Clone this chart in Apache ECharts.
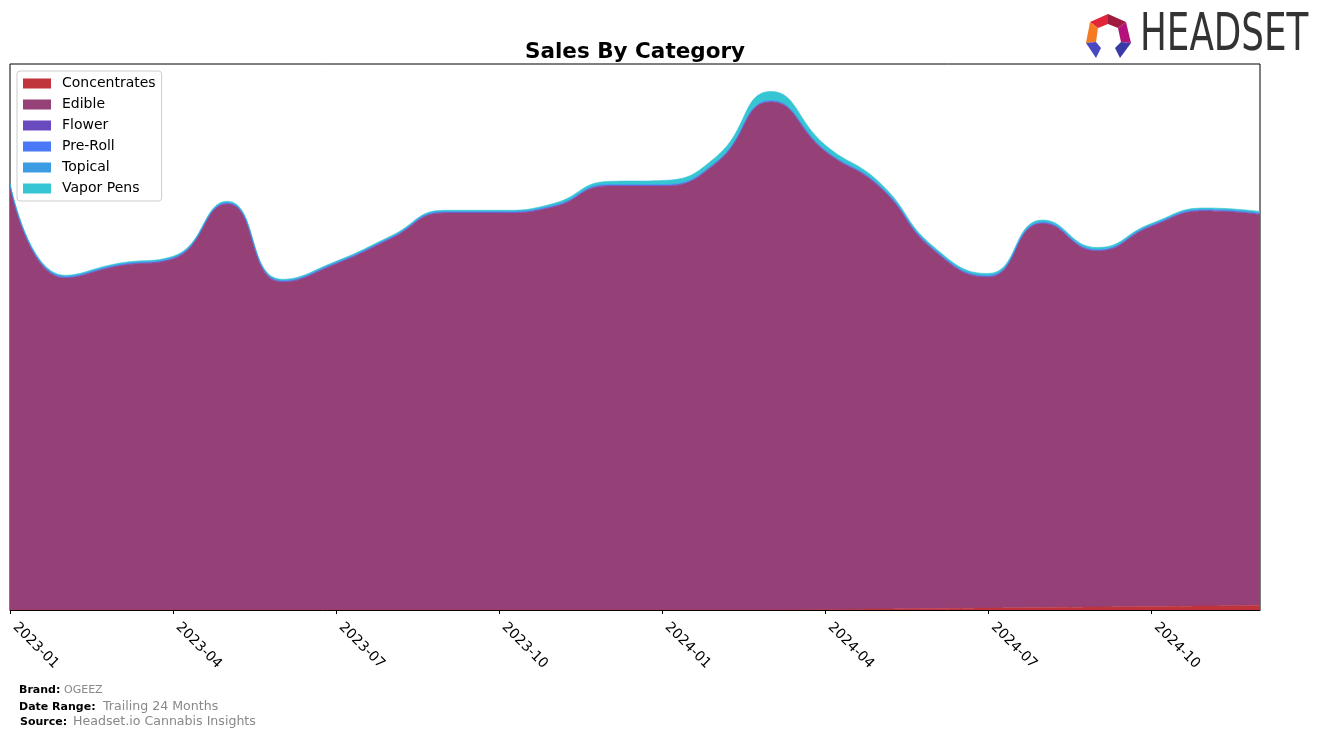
<!DOCTYPE html>
<html>
<head>
<meta charset="utf-8">
<script src="https://cdn.jsdelivr.net/npm/echarts@6/dist/echarts.min.js"></script>
<style>
html,body{margin:0;padding:0;background:#fff;}
#chart{width:1324px;height:738px;}
</style>
</head>
<body>
<div id="chart"></div>
<script>
// Monthly categories (x axis)
const months = ['2023-01','2023-02','2023-03','2023-04','2023-05','2023-06','2023-07','2023-08','2023-09','2023-10','2023-11','2023-12',
                '2024-01','2024-02','2024-03','2024-04','2024-05','2024-06','2024-07','2024-08','2024-09','2024-10','2024-11','2024-12'];
// Series values (relative sales units)
const concentrates = [0,0,0,0,0,0,0,0,0,0,0,0, 0,0,0,0.5,1,1.5,2,2.5,3,3.5,4,4.5];
const edible       = [424,332,344,351,406,328,346,371,397,397,403,424, 424,447,508,458,422,358,331,384,356,380,395,391];
const flower       = [0.6,0.6,0.6,0.6,0.6,0.6,0.6,0.6,0.6,0.6,0.6,0.6, 0.6,0.6,0.6,0.6,0.6,0.6,0.6,0.6,0.6,0.6,0.6,0.6];
const preRoll      = [0.5,0.5,0.5,0.5,0.5,0.5,0.5,0.5,0.5,0.5,0.5,0.5, 0.5,0.5,0.5,0.5,0.5,0.5,0.5,0.5,0.5,0.5,0.5,0.5];
const topical      = [0.4,0.4,0.4,0.4,0.4,0.4,0.4,0.4,0.4,0.4,0.4,0.4, 0.4,0.4,0.4,0.4,0.4,0.4,0.4,0.4,0.4,0.4,0.4,0.4];
const vaporPens    = [1.2,1.2,1.2,1.2,1.2,1.2,1.2,1.2,1.2,1.2,2,3, 4,5,9,5,3,2,2,2,2,1.5,1.5,1.5];

const seriesDefs = [
  ['Concentrates', concentrates, '#c0343b'],
  ['Edible', edible, '#954077'],
  ['Flower', flower, '#6a4bbf'],
  ['Pre-Roll', preRoll, '#4a78f6'],
  ['Topical', topical, '#3b9ce4'],
  ['Vapor Pens', vaporPens, '#35c5d3']
];

const chart = echarts.init(document.getElementById('chart'), null, {renderer:'canvas'});
const FONT = 'DejaVu Sans';

const option = {
  animation: false,
  backgroundColor: '#ffffff',
  title: {
    text: 'Sales By Category',
    left: 635, top: 41, textAlign: 'center', padding: 0,
    textStyle: {fontFamily: FONT, fontSize: 21.5, fontWeight: 'bold', color: '#000'}
  },
  legend: {
    orient: 'vertical', left: 17, top: 71,
    padding: [5, 6, 5, 6],
    itemWidth: 28, itemHeight: 10, itemGap: 6,
    icon: 'rect',
    borderColor: '#cccccc', borderWidth: 1, borderRadius: 3,
    backgroundColor: 'rgba(255,255,255,0.85)',
    textStyle: {fontFamily: FONT, fontSize: 14, color: '#000', lineHeight: 15, padding: [0, 0, 0, 6]},
    data: seriesDefs.map(d => d[0])
  },
  grid: {left: 10, right: 64, top: 64, bottom: 128, containLabel: false, outerBoundsMode: 'none',
         show: true, borderColor: '#000', borderWidth: 1, backgroundColor: 'transparent'},
  xAxis: {
    type: 'category', data: months, boundaryGap: false,
    axisLine: {show: true, lineStyle: {color: '#000', width: 1}},
    axisTick: {show: true, interval: 2, length: 4, lineStyle: {color: '#000'}},
    axisLabel: {interval: 2, rotate: -45, margin: 10, padding: [0, 0, 0, 7], fontFamily: FONT, fontSize: 14, color: '#000'},
    splitLine: {show: false}
  },
  yAxis: {
    type: 'value', min: 0, max: 546,
    axisLine: {show: false}, axisTick: {show: false}, axisLabel: {show: false}, splitLine: {show: false}
  },
  series: seriesDefs.map(d => ({
    name: d[0], type: 'line', stack: 'total', data: d[1],
    smooth: 0.5, symbol: 'none', showSymbol: false,
    itemStyle: {color: d[2]},
    lineStyle: {color: d[2], width: 0.6},
    areaStyle: {color: d[2], opacity: 1},
    emphasis: {disabled: true}
  })),
  graphic: [
    // HEADSET logo icon
    {type:'polygon', shape:{points:[[1090,22],[1108,14],[1108,24],[1098,28]]}, style:{fill:'#e1253b'}},
    {type:'polygon', shape:{points:[[1108,14],[1126,22],[1118,28],[1108,24]]}, style:{fill:'#a11a3f'}},
    {type:'polygon', shape:{points:[[1090,22],[1098,28],[1096,42],[1086,43]]}, style:{fill:'#f47b22'}},
    {type:'polygon', shape:{points:[[1126,22],[1131,43],[1121,42],[1118,28]]}, style:{fill:'#b3127a'}},
    {type:'polygon', shape:{points:[[1086,43],[1096,42],[1101,48],[1096,58]]}, style:{fill:'#4848c2'}},
    {type:'polygon', shape:{points:[[1121,42],[1131,43],[1120,58],[1115,48]]}, style:{fill:'#3a3aa6'}},
    {type:'text', x:1140, y:37, scaleX:0.70, style:{text:'HEADSET', fill:'#333333', font:'51px "DejaVu Sans"', verticalAlign:'middle', align:'left'}},
    // Footer
    {type:'text', x:19, y:690, style:{text:'Brand:', fill:'#000', font:'bold 11px "DejaVu Sans"', verticalAlign:'middle'}},
    {type:'text', x:64, y:690, style:{text:'OGEEZ', fill:'#888888', font:'11px "DejaVu Sans"', verticalAlign:'middle'}},
    {type:'text', x:19, y:707, style:{text:'Date Range:', fill:'#000', font:'bold 11px "DejaVu Sans"', verticalAlign:'middle'}},
    {type:'text', x:103, y:707, style:{text:'Trailing 24 Months', fill:'#888888', font:'12.6px "DejaVu Sans"', verticalAlign:'middle'}},
    {type:'text', x:20, y:722, style:{text:'Source:', fill:'#000', font:'bold 11px "DejaVu Sans"', verticalAlign:'middle'}},
    {type:'text', x:73, y:722, style:{text:'Headset.io Cannabis Insights', fill:'#888888', font:'12.6px "DejaVu Sans"', verticalAlign:'middle'}}
  ]
};
chart.setOption(option);
</script>
</body>
</html>
